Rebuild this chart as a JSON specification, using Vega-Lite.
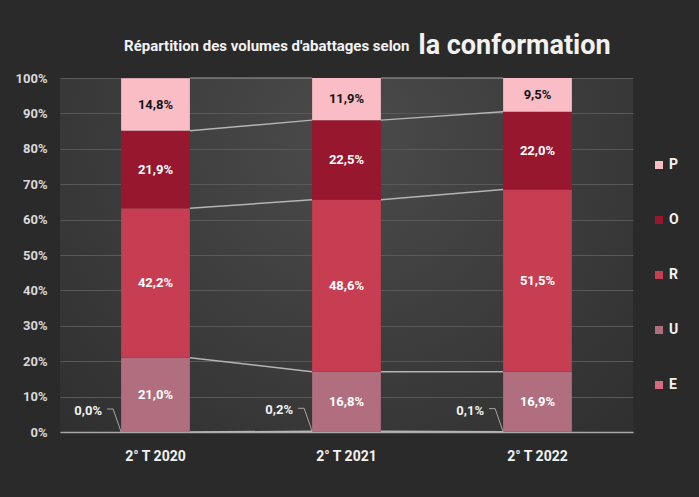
{
  "$schema": "https://vega.github.io/schema/vega-lite/v6.json",
  "width": 573,
  "height": 354,
  "autosize": {"type": "none"},
  "padding": {"left": 60, "top": 78, "right": 66, "bottom": 65},
  "background": "#2a2a2a",
  "config": {
    "view": {"stroke": null, "fill": {"gradient": "radial", "x1": 0.5, "y1": 0.3, "r1": 0, "x2": 0.5, "y2": 0.3, "r2": 0.8, "stops": [{"offset": 0, "color": "#4b4b4b"}, {"offset": 1, "color": "#2c2c2c"}]}},
    "font": "Roboto",
    "text": {"font": "Roboto"}
  },
  "datasets": {
    "bars": [
      {"annee": "2° T 2020", "classe": "E", "pct": 0.0},
      {"annee": "2° T 2020", "classe": "U", "pct": 21.0},
      {"annee": "2° T 2020", "classe": "R", "pct": 42.2},
      {"annee": "2° T 2020", "classe": "O", "pct": 21.9},
      {"annee": "2° T 2020", "classe": "P", "pct": 14.8},
      {"annee": "2° T 2021", "classe": "E", "pct": 0.2},
      {"annee": "2° T 2021", "classe": "U", "pct": 16.8},
      {"annee": "2° T 2021", "classe": "R", "pct": 48.6},
      {"annee": "2° T 2021", "classe": "O", "pct": 22.5},
      {"annee": "2° T 2021", "classe": "P", "pct": 11.9},
      {"annee": "2° T 2022", "classe": "E", "pct": 0.1},
      {"annee": "2° T 2022", "classe": "U", "pct": 16.9},
      {"annee": "2° T 2022", "classe": "R", "pct": 51.5},
      {"annee": "2° T 2022", "classe": "O", "pct": 22.0},
      {"annee": "2° T 2022", "classe": "P", "pct": 9.5}
    ],
    "liens": [
      {"de": "2° T 2020", "a": "2° T 2021", "classe": "E", "y1": 0.0, "y2": 0.2},
      {"de": "2° T 2020", "a": "2° T 2021", "classe": "U", "y1": 21.0, "y2": 17.0},
      {"de": "2° T 2020", "a": "2° T 2021", "classe": "R", "y1": 63.2, "y2": 65.6},
      {"de": "2° T 2020", "a": "2° T 2021", "classe": "O", "y1": 85.1, "y2": 88.1},
      {"de": "2° T 2020", "a": "2° T 2021", "classe": "P", "y1": 100.0, "y2": 100.0},
      {"de": "2° T 2021", "a": "2° T 2022", "classe": "E", "y1": 0.2, "y2": 0.1},
      {"de": "2° T 2021", "a": "2° T 2022", "classe": "U", "y1": 17.0, "y2": 17.0},
      {"de": "2° T 2021", "a": "2° T 2022", "classe": "R", "y1": 65.6, "y2": 68.5},
      {"de": "2° T 2021", "a": "2° T 2022", "classe": "O", "y1": 88.1, "y2": 90.5},
      {"de": "2° T 2021", "a": "2° T 2022", "classe": "P", "y1": 100.0, "y2": 100.0}
    ]
  },
  "layer": [
    {
      "data": {"name": "liens"},
      "mark": {"type": "rule", "strokeWidth": 1.5},
      "encoding": {
        "x": {"field": "de", "type": "nominal", "bandPosition": 1},
        "x2": {"field": "a", "bandPosition": 0},
        "y": {"field": "y1", "type": "quantitative"},
        "y2": {"field": "y2"},
        "color": {"condition": {"test": "datum.classe === 'P'", "value": "#7a7a7a"}, "value": "#b4b4b4"}
      }
    },
    {
      "data": {"name": "bars"},
      "transform": [{"calculate": "indexof(['E','U','R','O','P'], datum.classe)", "as": "ordre"}],
      "mark": {"type": "bar"},
      "encoding": {
        "x": {"field": "annee", "type": "nominal"},
        "y": {"field": "pct", "type": "quantitative", "stack": "zero"},
        "color": {
          "field": "classe", "type": "nominal",
          "scale": {"domain": ["P", "O", "R", "U", "E"], "range": ["#fbbdc5", "#97172f", "#c73d52", "#b06e7e", "#d96a7e"]},
          "legend": {
            "title": null, "orient": "none", "legendX": 592, "legendY": 80,
            "symbolType": "square", "symbolSize": 64, "symbolStrokeWidth": 0,
            "labelColor": "#f2f2f2", "labelFontSize": 14, "labelFontWeight": "bold", "labelFont": "Roboto",
            "labelOffset": 3, "rowPadding": 41
          }
        },
        "order": {"field": "ordre"}
      }
    },
    {
      "data": {"name": "bars"},
      "transform": [
        {"calculate": "indexof(['E','U','R','O','P'], datum.classe)", "as": "ordre"},
        {"calculate": "datum.classe === 'E' ? '' : replace(format(datum.pct, '.1f'), '.', ',') + '%'", "as": "etiquette"}
      ],
      "mark": {"type": "text", "fontSize": 13, "fontWeight": "bold", "baseline": "middle"},
      "encoding": {
        "x": {"field": "annee", "type": "nominal"},
        "y": {"field": "pct", "type": "quantitative", "stack": "zero", "bandPosition": 0.5},
        "detail": {"field": "classe"},
        "order": {"field": "ordre"},
        "text": {"field": "etiquette"},
        "color": {"condition": {"test": "datum.classe === 'P'", "value": "#141414"}, "value": "#ffffff"}
      }
    },
    {
      "data": {"name": "bars"},
      "transform": [{"filter": "datum.classe === 'E'"}],
      "mark": {"type": "rule", "color": "#a6a6a6", "strokeWidth": 1, "x2Offset": -8, "y2Offset": -23},
      "encoding": {
        "x": {"field": "annee", "type": "nominal", "bandPosition": 0},
        "x2": {"field": "annee", "bandPosition": 0},
        "y": {"field": "pct", "type": "quantitative"},
        "y2": {"field": "pct"}
      }
    },
    {
      "data": {"name": "bars"},
      "transform": [{"filter": "datum.classe === 'E'"}],
      "mark": {"type": "rule", "color": "#a6a6a6", "strokeWidth": 1, "xOffset": -8, "x2Offset": -14, "yOffset": -23, "y2Offset": -23},
      "encoding": {
        "x": {"field": "annee", "type": "nominal", "bandPosition": 0},
        "x2": {"field": "annee", "bandPosition": 0},
        "y": {"field": "pct", "type": "quantitative"},
        "y2": {"field": "pct"}
      }
    },
    {
      "data": {"name": "bars"},
      "transform": [
        {"filter": "datum.classe === 'E'"},
        {"calculate": "replace(format(datum.pct, '.1f'), '.', ',') + '%'", "as": "etiquette"}
      ],
      "mark": {"type": "text", "fontSize": 13, "fontWeight": "bold", "baseline": "middle", "color": "#f2f2f2", "dx": -33, "dy": -21},
      "encoding": {
        "x": {"field": "annee", "type": "nominal", "bandPosition": 0},
        "y": {"field": "pct", "type": "quantitative"},
        "text": {"field": "etiquette"}
      }
    }
  ],
  "encoding": {
    "x": {
      "field": "annee", "type": "nominal",
      "scale": {"domain": ["2° T 2020", "2° T 2021", "2° T 2022"], "paddingInner": 0.64, "paddingOuter": 0.32},
      "axis": {
        "labelAngle": 0, "labelColor": "#f2f2f2", "labelFontSize": 14, "labelFontWeight": "bold", "labelFont": "Roboto",
        "labelPadding": 17, "ticks": false, "domainColor": "#a6a6a6", "domainWidth": 1.5, "grid": false,
        "title": "Répartition des volumes d'abattages selon", "titleFont": "Roboto", "titleFontSize": 15, "titleFontWeight": "bold",
        "titleColor": "#f2f2f2", "titleAngle": 0, "titleAlign": "right", "titleBaseline": "alphabetic", "titleX": 349, "titleY": -382
      }
    },
    "y": {
      "type": "quantitative",
      "scale": {"domain": [0, 100]},
      "axis": {
        "values": [0, 10, 20, 30, 40, 50, 60, 70, 80, 90, 100], "labelExpr": "datum.value + '%'",
        "grid": true, "gridColor": "#595959", "gridWidth": 1, "domain": false, "ticks": false,
        "labelPadding": 13, "labelColor": "#d9d9d9", "labelFontSize": 13, "labelFontWeight": "bold", "labelFont": "Roboto",
        "title": "la conformation", "titleFont": "Roboto", "titleFontSize": 27, "titleFontWeight": "bold",
        "titleColor": "#f2f2f2", "titleAngle": 0, "titleAlign": "left", "titleBaseline": "alphabetic", "titleX": 358, "titleY": -25
      }
    }
  }
}
